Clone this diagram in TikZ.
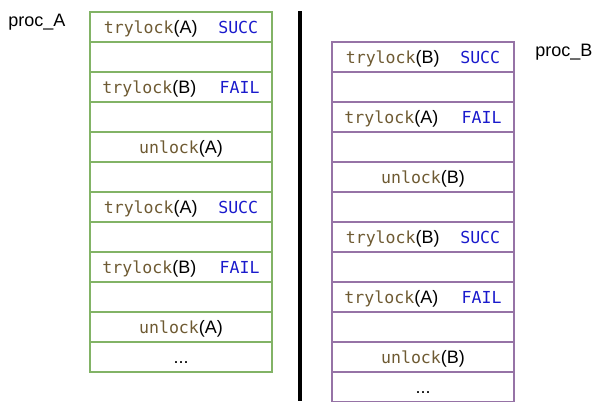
\documentclass[tikz,border=0pt]{standalone}
\usepackage{fontspec}
\setmainfont{Liberation Sans}
\setmonofont[Scale=0.92]{DejaVu Sans Mono}
\usepackage{tikz}
\usetikzlibrary{matrix}
\usepackage{xcolor}
\definecolor{callbrown}{HTML}{6E5A32}
\definecolor{retblue}{HTML}{1A1ACC}
\definecolor{boxgreen}{HTML}{82B366}
\definecolor{boxpurple}{HTML}{9673A6}
\newcommand{\call}[2]{\texttt{\textcolor{callbrown}{#1}}(#2)}
\newcommand{\ret}[2][1.15em]{\hspace{#1}\texttt{\textcolor{retblue}{#2}}}

\begin{document}
\begin{tikzpicture}[x=0.75pt, y=-0.75pt, font=\fontsize{13.5}{16}\selectfont,
  cell/.style={draw, line width=1.1pt, minimum width=136.5pt, minimum height=22.5pt, inner sep=0pt, text height=12pt, text depth=3pt}]
\useasboundingbox (0,0) rectangle (603,401);

\matrix (a) [matrix of nodes, nodes in empty cells, inner sep=0pt, anchor=north west, row sep=-1.1pt, nodes={cell, draw=boxgreen}] at (89,11) {
\call{trylock}{A}\ret{SUCC} \\
 \\
\call{trylock}{B}\ret[1.3em]{FAIL} \\
 \\
\call{unlock}{A} \\
 \\
\call{trylock}{A}\ret{SUCC} \\
 \\
\call{trylock}{B}\ret[1.3em]{FAIL} \\
 \\
\call{unlock}{A} \\
... \\};

\matrix (b) [matrix of nodes, nodes in empty cells, inner sep=0pt, anchor=north west, row sep=-1.1pt, nodes={cell, draw=boxpurple}] at (331,41) {
\call{trylock}{B}\ret{SUCC} \\
 \\
\call{trylock}{A}\ret[1.3em]{FAIL} \\
 \\
\call{unlock}{B} \\
 \\
\call{trylock}{B}\ret{SUCC} \\
 \\
\call{trylock}{A}\ret[1.3em]{FAIL} \\
 \\
\call{unlock}{B} \\
... \\};

\node[anchor=west, inner sep=0pt] (procA) at (8,22) {proc\_A};
\node[anchor=west, inner sep=0pt] (procB) at (535,52) {proc\_B};

\coordinate (divtop) at (300,11);
\coordinate (divbot) at (300,401);
\draw[line width=3pt] (divtop) -- (divbot);

\end{tikzpicture}
\end{document}
